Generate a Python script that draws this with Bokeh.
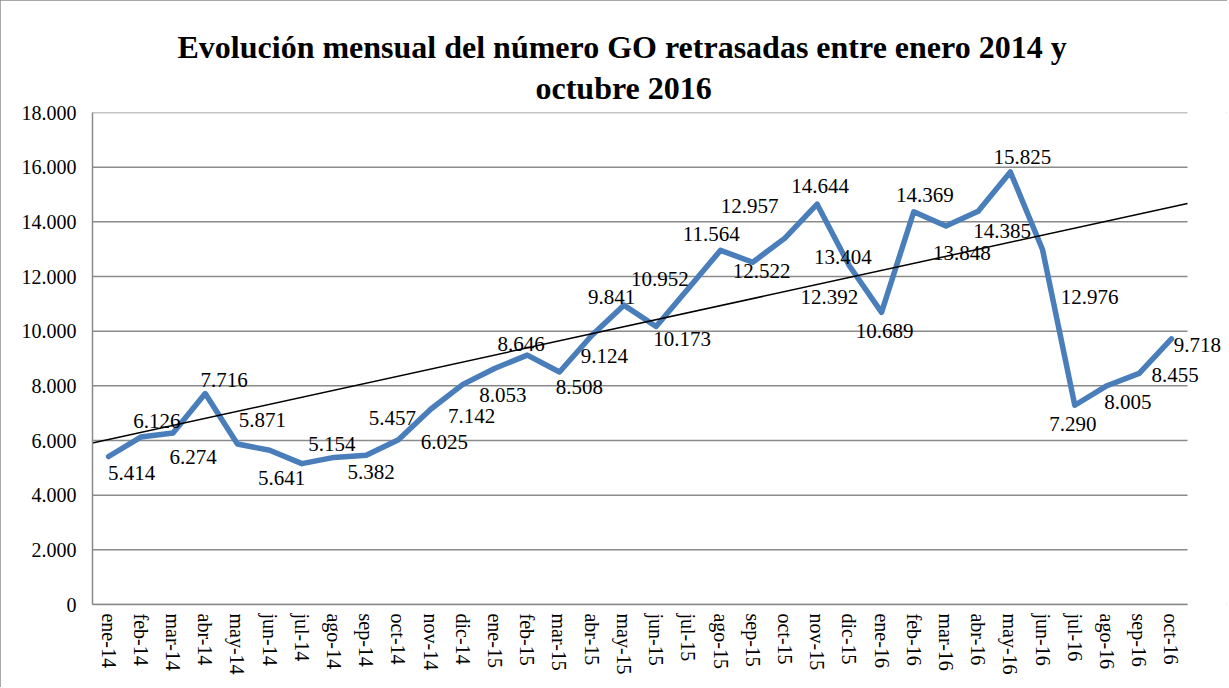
from bokeh.plotting import figure
from bokeh.models import ColumnDataSource, LabelSet, Title, FixedTicker
from bokeh.embed import file_html
from bokeh.resources import INLINE

months = ["ene-14", "feb-14", "mar-14", "abr-14", "may-14", "jun-14", "jul-14", "ago-14",
          "sep-14", "oct-14", "nov-14", "dic-14", "ene-15", "feb-15", "mar-15", "abr-15",
          "may-15", "jun-15", "jul-15", "ago-15", "sep-15", "oct-15", "nov-15", "dic-15",
          "ene-16", "feb-16", "mar-16", "abr-16", "may-16", "jun-16", "jul-16", "ago-16",
          "sep-16", "oct-16"]
values = [5414, 6126, 6274, 7716, 5871, 5641, 5154, 5382, 5457, 6025, 7142, 8053,
          8646, 9124, 8508, 9841, 10952, 10173, 11564, 12957, 12522, 13404, 14644, 12392,
          10689, 14369, 13848, 14385, 15825, 12976, 7290, 8005, 8455, 9718]
value_labels = ["5.414", "6.126", "6.274", "7.716", "5.871", "5.641", "5.154", "5.382",
                "5.457", "6.025", "7.142", "8.053", "8.646", "9.124", "8.508", "9.841",
                "10.952", "10.173", "11.564", "12.957", "12.522", "13.404", "14.644", "12.392",
                "10.689", "14.369", "13.848", "14.385", "15.825", "12.976", "7.290", "8.005",
                "8.455", "9.718"]
# linear trend line (value at left and right edge of the axis)
trend_values = [5910, 14670]
ytick_values = [0, 2000, 4000, 6000, 8000, 10000, 12000, 14000, 16000, 18000]
ytick_labels = ["0", "2.000", "4.000", "6.000", "8.000", "10.000", "12.000", "14.000",
                "16.000", "18.000"]
title_line1 = "Evolución mensual del número GO retrasadas entre enero 2014 y"
title_line2 = "octubre 2016"

# label placement offsets in screen pixels (right, down)
label_dx = [23, 16, 20, 19, 25, 12, 30, 37, 26, 46, 41, 40, 26, 77, 20, 20, 36, 26,
            23, 29, 9, 58, 3, -20, 3, 11, 16, 24, 12, 47, -2, 21, 36, 26]
label_dy = [16, -16, 24, -14, -24, 28, -20, 15, -37, 2, 7, 11, -24, 1, 15, -39, -26, 13,
            -54, -44, 9, 19, -18, 31, 19, -17, 27, 20, -15, 47, 19, 16, 2, 6]

FONT = "Liberation Serif"
GRID = "#8a8a8a"
n = len(months)
idx = list(range(n))
x_lo, x_hi = -0.5, n - 0.5

W, H = 1227, 687
LEFT, TOP, BOTTOM = 92, 112, 83
plot_px = 1095.0                 # pixel width of the category area
frame_px = W - LEFT              # frame runs to the right edge so labels are not clipped
x_end = x_lo + frame_px * (x_hi - x_lo) / plot_px

src = ColumnDataSource(dict(x=idx, y=values, lab=value_labels,
                            dx=label_dx, dy=[-d for d in label_dy]))

p = figure(width=W, height=H, output_backend="svg", toolbar_location=None,
           x_range=(x_lo, x_end), y_range=(0, 18000),
           min_border_left=LEFT, min_border_right=0, min_border_top=TOP,
           min_border_bottom=BOTTOM)
p.styles = {"outline": "1px solid #8c8c8c", "outline-offset": "-1px"}
p.outline_line_color = None
p.background_fill_color = "white"
p.border_fill_color = "white"

# titles
t2 = Title(text=title_line2, align="left", text_font=FONT, text_font_size="32px",
           text_font_style="bold", text_color="black", offset=443, standoff=14)
t1 = Title(text=title_line1, align="left", text_font=FONT, text_font_size="32px",
           text_font_style="bold", text_color="black", offset=85, standoff=-8)
p.add_layout(t2, "above")
p.add_layout(t1, "above")

# horizontal grid lines limited to the category area
p.xgrid.grid_line_color = None
p.ygrid.grid_line_color = None
p.segment(x0=[x_lo] * len(ytick_values), x1=[x_hi] * len(ytick_values),
          y0=ytick_values, y1=ytick_values, line_color=GRID, line_width=1.5)

# y axis
p.yaxis.ticker = FixedTicker(ticks=ytick_values)
p.yaxis.major_label_overrides = {v: s for v, s in zip(ytick_values, ytick_labels)}
p.yaxis.major_tick_line_color = None
p.yaxis.minor_tick_line_color = None
p.yaxis.major_tick_out = 0
p.yaxis.axis_line_color = GRID
p.yaxis.axis_line_width = 1.5
p.yaxis.major_label_text_font = FONT
p.yaxis.major_label_text_font_size = "20px"
p.yaxis.major_label_text_color = "black"
p.yaxis.major_label_standoff = 16

# x axis
p.xaxis.ticker = FixedTicker(ticks=idx)
p.xaxis.bounds = (x_lo, x_hi)
p.xaxis.major_label_overrides = {i: m for i, m in zip(idx, months)}
p.xaxis.major_label_orientation = "vertical"
p.xaxis.major_tick_line_color = None
p.xaxis.minor_tick_line_color = None
p.xaxis.major_tick_out = 0
p.xaxis.axis_line_color = GRID
p.xaxis.axis_line_width = 1.5
p.xaxis.major_label_text_font = FONT
p.xaxis.major_label_text_font_size = "20px"
p.xaxis.major_label_text_color = "black"
p.xaxis.major_label_standoff = 9

# main series
p.line("x", "y", source=src, line_color="#4a7ebb", line_width=5.5, line_join="round",
       line_cap="round")

# trend line
p.line([x_lo, x_hi], trend_values, line_color="black", line_width=1.5)

labels = LabelSet(x="x", y="y", text="lab", source=src, x_offset="dx", y_offset="dy",
                  text_font=FONT, text_font_size="21px", text_color="black",
                  text_align="center", text_baseline="middle")
p.add_layout(labels)

open("out.html", "w").write(file_html(p, INLINE))
